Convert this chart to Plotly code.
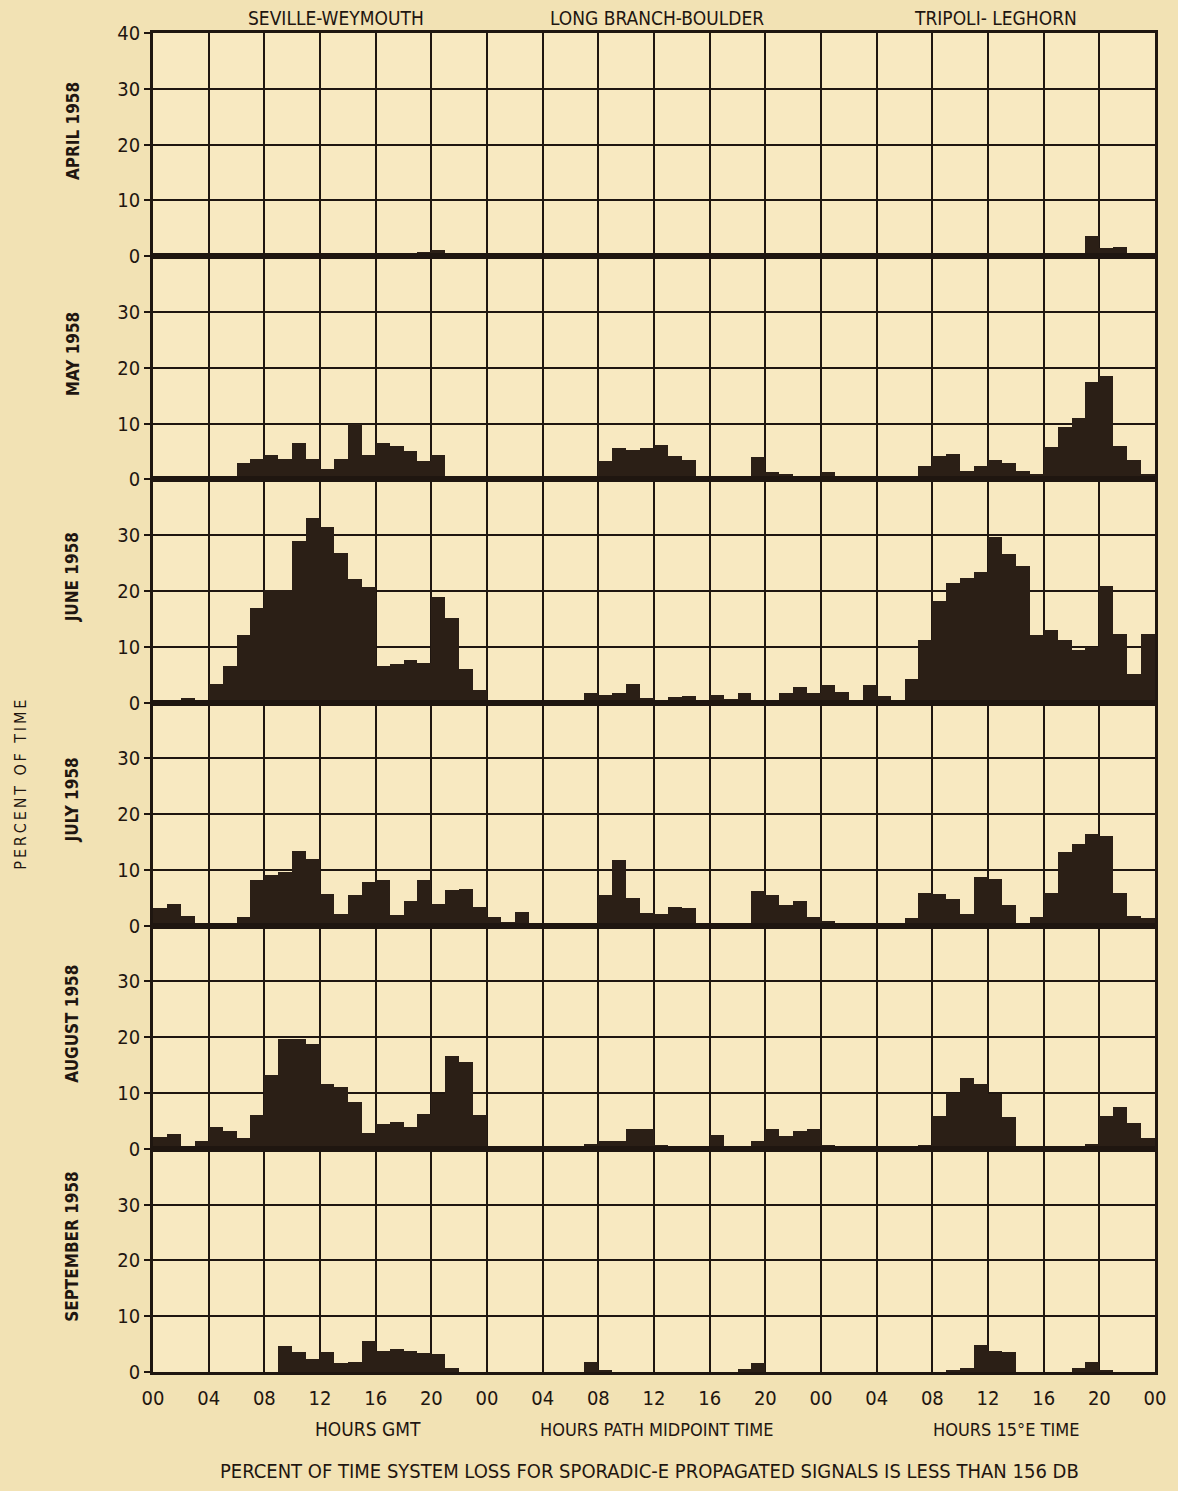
import plotly.graph_objects as go
from plotly.subplots import make_subplots

# ---- labels -------------------------------------------------------------
months = ["APRIL 1958", "MAY 1958", "JUNE 1958", "JULY 1958", "AUGUST 1958", "SEPTEMBER 1958"]
paths = ["SEVILLE-WEYMOUTH", "LONG BRANCH-BOULDER", "TRIPOLI- LEGHORN"]
time_titles = ["HOURS GMT", "HOURS PATH MIDPOINT TIME", "HOURS 15°E TIME"]
hour_labels = ["00", "04", "08", "12", "16", "20"] * 3 + ["00"]
percent_ticks = [0, 10, 20, 30, 40]
bottom_title = "PERCENT OF TIME SYSTEM LOSS FOR SPORADIC-E PROPAGATED SIGNALS IS LESS THAN 156 DB"
y_title = "PERCENT OF TIME"

# ---- percent of time, hourly (00 .. 23) --------------------------------
seville_apr = [0, 0, 0, 0, 0, 0, 0, 0, 0, 0, 0, 0, 0, 0, 0, 0, 0, 0, 0, 0.7, 1.1, 0, 0, 0]
seville_may = [0, 0, 0, 0, 0, 0, 2.9, 3.7, 4.4, 3.7, 6.5, 3.7, 1.9, 3.7, 9.8, 4.4, 6.5, 5.9, 5.0, 3.2, 4.4, 0.4, 0, 0]
seville_jun = [0, 0, 0.8, 0, 3.2, 6.5, 12.0, 16.8, 20.1, 20.1, 28.8, 33.1, 31.4, 26.8, 22.0, 20.7, 6.5, 6.9, 7.5, 7.1, 18.8, 15.0, 6.0, 2.2]
seville_jul = [3.3, 3.9, 1.8, 0.5, 0.3, 0.2, 1.7, 8.2, 9.1, 9.7, 13.4, 12.0, 5.8, 2.1, 5.5, 7.9, 8.3, 2.0, 4.5, 8.3, 4.0, 6.4, 6.6, 3.5]
seville_aug = [2.2, 2.7, 0.3, 1.4, 4.0, 3.3, 2.0, 6.1, 13.3, 19.7, 19.7, 18.9, 11.7, 11.2, 8.5, 2.9, 4.6, 4.8, 4.0, 6.3, 9.9, 16.7, 15.7, 6.1]
seville_sep = [0, 0, 0, 0, 0, 0, 0, 0, 0, 4.7, 3.6, 2.3, 3.6, 1.7, 1.9, 5.5, 3.8, 4.2, 3.8, 3.5, 3.3, 0.8, 0, 0]

boulder_apr = [0] * 24
boulder_may = [0, 0, 0, 0, 0, 0, 0, 0.4, 3.2, 5.5, 5.2, 5.6, 6.1, 4.2, 3.5, 0, 0, 0, 0.4, 3.9, 1.2, 0.9, 0, 0]
boulder_jun = [0, 0, 0, 0, 0, 0, 0, 1.6, 1.2, 1.6, 3.2, 0.8, 0.2, 0.9, 1.1, 0.2, 1.2, 0.6, 1.7, 0, 0.3, 1.7, 2.8, 1.7]
boulder_jul = [1.7, 0.8, 2.6, 0, 0, 0, 0, 0.6, 5.5, 11.8, 5.1, 2.3, 2.1, 3.5, 3.3, 0, 0, 0, 0.5, 6.3, 5.5, 3.8, 4.5, 1.7]
boulder_aug = [0, 0, 0, 0, 0, 0, 0.4, 1.0, 1.5, 1.4, 3.6, 3.6, 0.8, 0.3, 0, 0, 2.6, 0.3, 0.3, 1.4, 3.6, 2.4, 3.3, 3.7]
boulder_sep = [0, 0, 0, 0, 0, 0, 0, 1.8, 0.4, 0, 0, 0, 0, 0, 0, 0, 0, 0, 0.6, 1.7, 0, 0, 0, 0]

leghorn_apr = [0, 0, 0, 0, 0, 0, 0, 0, 0, 0, 0.4, 0, 0.4, 0, 0, 0, 0, 0.4, 0, 3.7, 1.5, 1.7, 0, 0]
leghorn_may = [1.2, 0, 0, 0, 0.3, 0, 0, 2.4, 4.1, 4.5, 1.5, 2.4, 3.4, 2.9, 1.5, 0.9, 5.7, 9.4, 11.0, 17.4, 18.5, 5.9, 3.4, 0.9]
leghorn_jun = [3.0, 1.9, 0, 3.0, 1.1, 0, 4.2, 11.1, 18.2, 21.3, 22.2, 23.4, 29.6, 26.6, 24.4, 12.0, 12.9, 11.1, 9.3, 9.8, 20.8, 12.2, 5.1, 12.2]
leghorn_jul = [0.9, 0.3, 0, 0, 0, 0, 1.4, 6.0, 5.7, 4.9, 2.1, 8.9, 8.5, 3.8, 0.5, 1.7, 6.0, 13.3, 14.8, 16.5, 16.1, 6.0, 1.8, 1.5]
leghorn_aug = [0.8, 0.6, 0.6, 0, 0, 0, 0, 0.8, 6.0, 10.0, 12.7, 11.7, 9.9, 5.8, 0, 0, 0, 0, 0.5, 1.0, 6.0, 7.5, 4.7, 2.0]
leghorn_sep = [0, 0, 0, 0, 0, 0, 0, 0, 0, 0.4, 0.8, 4.9, 3.8, 3.7, 0, 0, 0, 0, 0.7, 1.9, 0.4, 0, 0, 0]

rows = [
    (seville_apr, boulder_apr, leghorn_apr),
    (seville_may, boulder_may, leghorn_may),
    (seville_jun, boulder_jun, leghorn_jun),
    (seville_jul, boulder_jul, leghorn_jul),
    (seville_aug, boulder_aug, leghorn_aug),
    (seville_sep, boulder_sep, leghorn_sep),
]

# ---- styling ------------------------------------------------------------
INK = "#1f1610"
BAR = "#2b1f16"
PAPER = "#f2e2b4"
PLOT_BG = "#f8e9c1"
FONT = "Liberation Sans Narrow, DejaVu Sans Condensed, Liberation Sans, sans-serif"

W, H = 1178, 1491
L, R, T, B = 153, 18, 33, 119
PW, PH = W - L - R, H - T - B


def px_x(px):
    return (px - L) / PW


def px_y(py):
    return (H - B - py) / PH


def label(text, cx, cy, size=20, angle=0, bold=False):
    return dict(
        text=f"<b>{text}</b>" if bold else text,
        x=px_x(cx), y=px_y(cy), xref="paper", yref="paper",
        xanchor="center", yanchor="middle", textangle=angle, showarrow=False,
        font=dict(family=FONT, size=size, color=INK),
    )


fig = make_subplots(rows=6, cols=1, shared_xaxes=True, vertical_spacing=0)

for r, series in enumerate(rows, start=1):
    xs, ys = [], []
    for p, values in enumerate(series):
        for h, v in enumerate(values):
            xs.append(24 * p + h + 0.5)
            ys.append(v)
    fig.add_trace(
        go.Bar(x=xs, y=ys, width=1, marker=dict(color=BAR, line=dict(width=0)),
               showlegend=False, hoverinfo="skip"),
        row=r, col=1,
    )
    tv = percent_ticks if r == 1 else percent_ticks[:-1]
    fig.update_yaxes(
        range=[0, 40], tickvals=tv, ticktext=[str(t) for t in tv],
        showgrid=True, gridcolor=INK, gridwidth=1.6, zeroline=False,
        showline=True, mirror=True, linecolor=INK, linewidth=2.6,
        ticks="outside", ticklen=6, tickwidth=1.6, tickcolor=INK,
        tickfont=dict(family=FONT, size=20, color=INK),
        row=r, col=1,
    )
    fig.update_xaxes(
        range=[0, 72], tick0=0, dtick=4,
        showgrid=True, gridcolor=INK, gridwidth=1.6, zeroline=False,
        showline=True, mirror=True, linecolor=INK, linewidth=2.6,
        ticks="", row=r, col=1,
    )

fig.update_xaxes(
    tickmode="array", tickvals=list(range(0, 73, 4)), ticktext=hour_labels,
    showticklabels=True, ticklabelstandoff=6,
    tickfont=dict(family=FONT, size=20, color=INK), row=6, col=1,
)

annotations = []
# path headers
for name, cx in zip(paths, [337, 660, 1000]):
    annotations.append(label(name, cx, 18, size=19))
# hour-axis titles
for name, cx, sz in zip(time_titles, [369, 659, 1010], [19, 18, 18]):
    annotations.append(label(name, cx, 1429, size=sz))
# month labels
row_h = PH / 6
for i, m in enumerate(months):
    cy = T + row_h * (i + 0.5) - 14
    annotations.append(label(m, 72, cy, size=17, angle=-90, bold=True))
# vertical axis title
annotations.append(label("\u2009".join(y_title), 20, 785, size=16, angle=-90))
# bottom caption
annotations.append(label(bottom_title, 652, 1471, size=20))

fig.update_layout(
    width=W, height=H,
    margin=dict(l=L, r=R, t=T, b=B),
    paper_bgcolor=PAPER, plot_bgcolor=PLOT_BG,
    bargap=0, annotations=annotations,
    font=dict(family=FONT, color=INK),
)

fig.write_html("out.html")
